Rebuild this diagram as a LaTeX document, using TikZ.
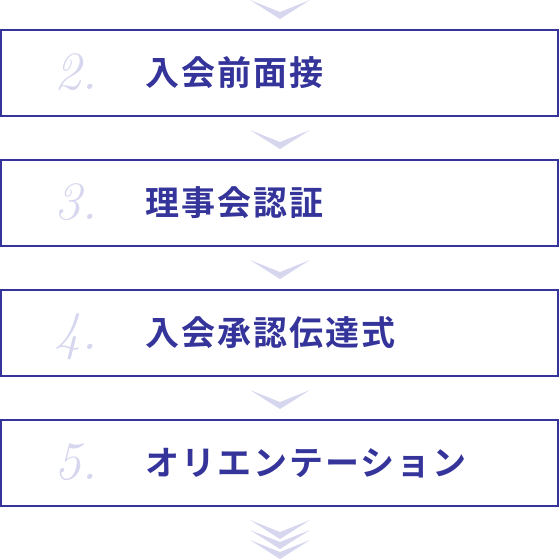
\documentclass[tikz,border=0pt]{standalone}
\usepackage{fontspec}
\newfontfamily\jpfont[LetterSpace=6]{Noto Sans CJK JP Bold}
\usepackage{tikz}
\usetikzlibrary{positioning}
\definecolor{stepnavy}{HTML}{34349A}
\definecolor{steplilac}{HTML}{D6D6EF}
\newcommand{\BoxWidth}{557pt}

\begin{document}
\begin{tikzpicture}[x=1pt,y=-1pt]
\useasboundingbox (0,0) rectangle (560,560);

% draw boxes with number and title
\foreach \i/\n/\title in {0/2/入会前面接,1/3/理事会認証,2/4/入会承認伝達式,3/5/オリエンテーション}{
\node[draw=stepnavy, line width=2pt, minimum width=\BoxWidth, minimum height=86pt, inner sep=0pt]
    (box\n) at (279.5,73+130*\i) {};
\node[anchor=base west, inner sep=0pt, text=steplilac, font=\fontsize{54}{54}\selectfont\itshape]
    (num\n) at (54,89+130*\i) {\n.};
\node[anchor=west, inner sep=0pt, text=stepnavy, font=\fontsize{34}{34}\selectfont\jpfont]
    (title\n) at (145,73+130*\i) {\title};
}

% chevrons between the boxes
\foreach \y in {0,130,260,390,520,530,540}
\fill[steplilac] (250,\y) -- (280,\y+19) -- (310,\y) -- (280,\y+12) -- cycle;
\end{tikzpicture}
\end{document}
